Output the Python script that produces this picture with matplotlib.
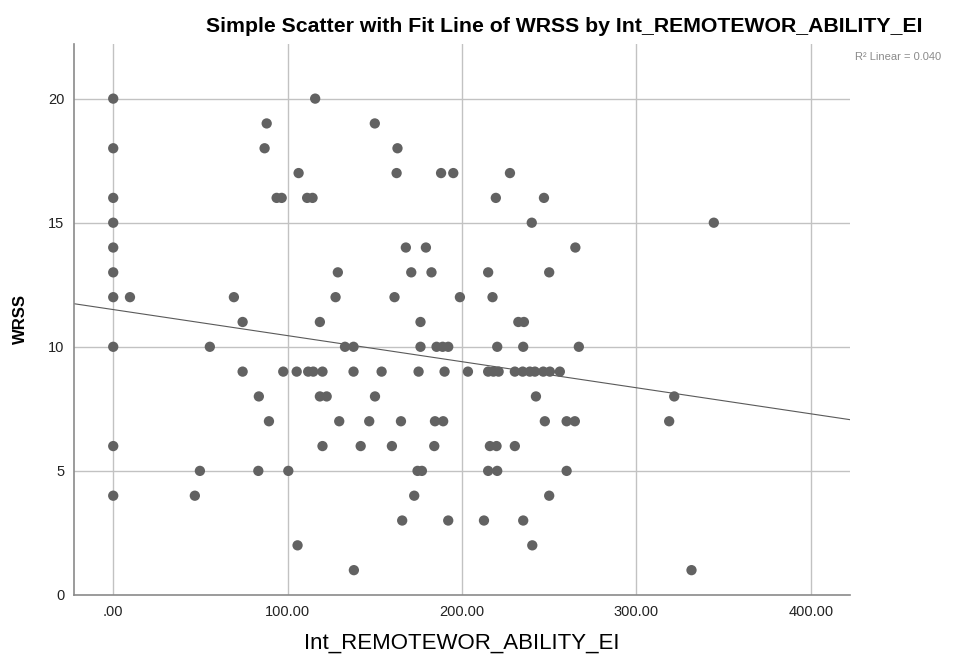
import numpy as np
import matplotlib.pyplot as plt
from matplotlib import font_manager

# narrow 글꼴이 있으면 눈금 라벨에 사용
names = {f.name for f in font_manager.fontManager.ttflist}
narrow = 'Liberation Sans Narrow' if 'Liberation Sans Narrow' in names else 'Liberation Sans'
plt.rcParams['font.family'] = ['Liberation Sans', 'DejaVu Sans']

# --- data (x = ability score, y = WRSS) ---
ability = [
    0, 0, 0, 0, 0, 0, 0, 0, 0, 0,
    115.8,
    88, 150,
    86.8, 163,
    106.3, 162.5, 188, 195, 227.5,
    93.7, 96.6, 111.2, 114.3, 219.4, 247,
    240, 344.4,
    167.8, 179.3, 265,
    128.8, 170.9, 182.5, 215, 250,
    9.6, 69.2, 127.5, 161.3, 198.8, 217.5,
    74.2, 118.5, 176.2, 232.3, 235.5,
    55.4, 132.9, 137.8, 176.2, 185.4, 188.9, 192.1, 220.2, 235.1, 267,
    74.2, 97.5, 105.2, 111.8, 114.7, 120, 137.8, 153.9, 175.1, 190, 203.4,
    215, 218, 221, 230.3, 234.8, 238.9, 241.8, 246.6, 250.4, 256.1,
    83.5, 118.5, 122.4, 150.1, 242.4, 321.7,
    89.3, 129.6, 146.8, 165, 184.5, 189.2, 247.5, 260, 264.7, 318.8,
    120, 141.9, 159.8, 184.1, 216, 219.8, 230.3,
    49.7, 83.2, 100.4, 174.5, 177, 215, 220.2, 260,
    46.8, 172.6, 250,
    165.7, 192.1, 212.6, 235.1,
    105.7, 240.3,
    138, 331.6,
]
wrss = [
    20, 18, 16, 15, 14, 13, 12, 10, 6, 4,
    20,
    19, 19,
    18, 18,
    17, 17, 17, 17, 17,
    16, 16, 16, 16, 16, 16,
    15, 15,
    14, 14, 14,
    13, 13, 13, 13, 13,
    12, 12, 12, 12, 12, 12,
    11, 11, 11, 11, 11,
    10, 10, 10, 10, 10, 10, 10, 10, 10, 10,
    9, 9, 9, 9, 9, 9, 9, 9, 9, 9, 9,
    9, 9, 9, 9, 9, 9, 9, 9, 9, 9,
    8, 8, 8, 8, 8, 8,
    7, 7, 7, 7, 7, 7, 7, 7, 7, 7,
    6, 6, 6, 6, 6, 6, 6,
    5, 5, 5, 5, 5, 5, 5, 5,
    4, 4, 4,
    3, 3, 3, 3,
    2, 2,
    1, 1,
]

# 회귀선 계수
fit_intercept = 11.50
fit_slope = -0.0105

x_ticks = [0, 100, 200, 300, 400]
x_labels = ['.00', '100.00', '200.00', '300.00', '400.00']
y_ticks = [0, 5, 10, 15, 20]
r2_text = 'R\u00b2 Linear = 0.040'

x = np.array(ability)
y = np.array(wrss)

fig = plt.figure(figsize=(9.71, 6.65), dpi=100)
ax = fig.add_axes([0.0762, 0.1053, 0.7992, 0.8285])

ax.set_xlim(-22.5, 422.5)
ax.set_ylim(0, 22.2)

# 격자선
for xv in x_ticks:
    ax.axvline(xv, color='#c2c2c2', lw=1.0, zorder=0)
for yv in y_ticks[1:]:
    ax.axhline(yv, color='#c2c2c2', lw=1.0, zorder=0)

ax.scatter(x, y, s=55, color='#626262', edgecolors='none', zorder=3)

# 회귀선
xl = np.array(ax.get_xlim())
ax.plot(xl, fit_intercept + fit_slope * xl, color='#5a5a5a', lw=0.8, zorder=2)

ax.set_xticks(x_ticks)
ax.set_xticklabels(x_labels)
ax.set_yticks(y_ticks)
ax.tick_params(length=0, labelsize=11, colors='#222222', pad=7)
for lab in ax.get_xticklabels() + ax.get_yticklabels():
    lab.set_family(narrow)
    lab.set_fontsize(12 if narrow != 'Liberation Sans' else 10.5)

for s in ['top', 'right']:
    ax.spines[s].set_visible(False)
for s in ['left', 'bottom']:
    ax.spines[s].set_color('#8a8a8a')
    ax.spines[s].set_linewidth(1.2)

ax.set_xlabel('Int_REMOTEWOR_ABILITY_EI', fontsize=16, labelpad=10)
ax.set_ylabel('WRSS', fontsize=12, fontweight='bold', labelpad=14)

fig.text(0.581, 0.960, 'Simple Scatter with Fit Line of WRSS by Int_REMOTEWOR_ABILITY_EI',
         ha='center', va='center', fontsize=15.3, fontweight='bold')
fig.text(0.881, 0.914, r2_text, ha='left', va='center', fontsize=8, color='#8a8a8a')

fig.savefig('out.png', dpi=100)
